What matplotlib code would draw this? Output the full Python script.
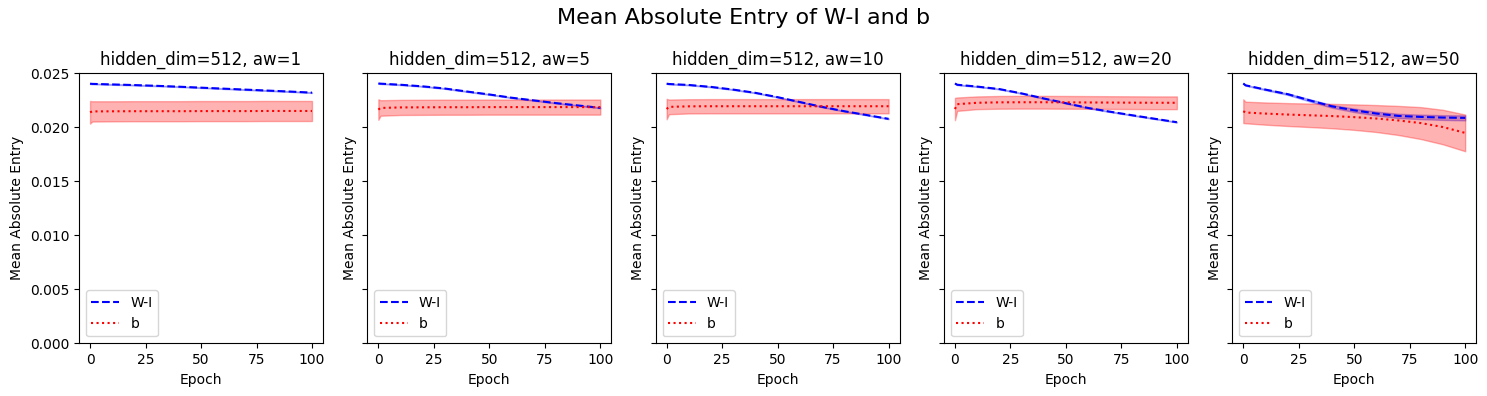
import matplotlib
matplotlib.use("Agg")
import matplotlib.pyplot as plt
import numpy as np

hidden_dim = 512
aws = [1, 5, 10, 20, 50]
epochs = [0, 1, 10, 20, 30, 40, 50, 60, 70, 80, 90, 100]

# mean |W-I| per epoch, one list per aw
wi_mean = {
    1:  [0.02405, 0.02403, 0.02398, 0.02392, 0.02385, 0.02377, 0.02368, 0.02359, 0.02350, 0.02341, 0.02332, 0.02322],
    5:  [0.02407, 0.02405, 0.02395, 0.02380, 0.02360, 0.02332, 0.02305, 0.02275, 0.02250, 0.02225, 0.02203, 0.02181],
    10: [0.02405, 0.02402, 0.02393, 0.02375, 0.02350, 0.02320, 0.02280, 0.02235, 0.02190, 0.02150, 0.02115, 0.02079],
    20: [0.02407, 0.02395, 0.02378, 0.02355, 0.02315, 0.02268, 0.02224, 0.02180, 0.02145, 0.02112, 0.02080, 0.02048],
    50: [0.02407, 0.02390, 0.02350, 0.02308, 0.02250, 0.02195, 0.02158, 0.02128, 0.02106, 0.02097, 0.02091, 0.02088],
}
wi_std = {
    1:  [0.00003] * 12,
    5:  [0.00003] * 12,
    10: [0.00003] * 12,
    20: [0.00003] * 12,
    50: [0.00002, 0.00003, 0.00005, 0.00007, 0.00010, 0.00013, 0.00016, 0.00018, 0.00020, 0.00021, 0.00022, 0.00023],
}

# mean |b| per epoch
b_mean = {
    1:  [0.02140, 0.02148, 0.02149, 0.02150, 0.02150, 0.02150, 0.02151, 0.02151, 0.02151, 0.02152, 0.02152, 0.02152],
    5:  [0.02165, 0.02180, 0.02185, 0.02186, 0.02187, 0.02187, 0.02188, 0.02188, 0.02188, 0.02188, 0.02188, 0.02188],
    10: [0.02170, 0.02190, 0.02195, 0.02196, 0.02196, 0.02196, 0.02196, 0.02196, 0.02196, 0.02196, 0.02196, 0.02196],
    20: [0.02170, 0.02215, 0.02228, 0.02232, 0.02233, 0.02233, 0.02232, 0.02231, 0.02230, 0.02229, 0.02228, 0.02228],
    50: [0.02150, 0.02138, 0.02128, 0.02119, 0.02112, 0.02105, 0.02095, 0.02082, 0.02064, 0.02040, 0.02003, 0.01949],
}
b_std = {
    1:  [0.00105, 0.00094, 0.00093, 0.00093, 0.00093, 0.00093, 0.00093, 0.00093, 0.00093, 0.00093, 0.00093, 0.00093],
    5:  [0.00095, 0.00072, 0.00070, 0.00070, 0.00070, 0.00070, 0.00070, 0.00070, 0.00070, 0.00070, 0.00070, 0.00070],
    10: [0.00095, 0.00068, 0.00066, 0.00066, 0.00066, 0.00066, 0.00066, 0.00066, 0.00066, 0.00066, 0.00066, 0.00066],
    20: [0.00104, 0.00062, 0.00059, 0.00059, 0.00059, 0.00059, 0.00059, 0.00059, 0.00059, 0.00059, 0.00059, 0.00059],
    50: [0.00110, 0.00100, 0.00103, 0.00106, 0.00109, 0.00113, 0.00118, 0.00125, 0.00135, 0.00148, 0.00160, 0.00170],
}

fig, axes = plt.subplots(1, 5, figsize=(14.87, 3.96), dpi=100, sharey=True)
x = np.array(epochs)

for ax, aw in zip(axes, aws):
    wm, ws = np.array(wi_mean[aw]), np.array(wi_std[aw])
    bm, bs = np.array(b_mean[aw]), np.array(b_std[aw])
    ax.plot(x, wm, "b--", label="W-I")
    ax.fill_between(x, wm - ws, wm + ws, color="blue", alpha=0.3)
    ax.plot(x, bm, "r:", label="b")
    ax.fill_between(x, bm - bs, bm + bs, color="red", alpha=0.3)
    ax.set_title(f"hidden_dim={hidden_dim}, aw={aw}")
    ax.set_xlabel("Epoch")
    ax.set_ylabel("Mean Absolute Entry")
    ax.set_ylim(0, 0.025)
    ax.legend(loc="lower left")

fig.suptitle("Mean Absolute Entry of W-I and b", fontsize=16)
fig.subplots_adjust(left=0.0531, right=0.9928, top=0.8146, bottom=0.1331, wspace=0.181)
plt.savefig("out.png")
